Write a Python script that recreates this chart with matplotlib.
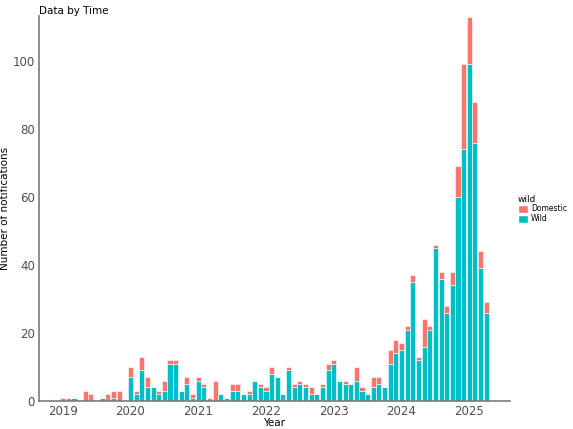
import numpy as np
import matplotlib
matplotlib.use("Agg")
import matplotlib.pyplot as plt
from matplotlib.patches import Patch

# monthly counts, Jan 2019 .. Apr 2025
months = [f"{y}-{m:02d}" for y in range(2019, 2026) for m in range(1, 13)][:76]

wild = [0, 0, 1, 0, 0, 0, 0, 1, 0, 1, 0, 0,
        7, 2, 9, 4, 4, 2, 3, 11, 11, 3, 5, 1,
        6, 4, 0, 0, 2, 1, 3, 3, 2, 2, 6, 4,
        3, 8, 7, 2, 9, 4, 5, 4, 2, 2, 4, 9,
        11, 6, 5, 5, 6, 3, 2, 4, 5, 4, 11, 14,
        15, 21, 35, 12, 16, 21, 45, 36, 26, 34, 60, 74,
        99, 76, 39, 26]
domestic = [1, 1, 0, 0, 3, 2, 0, 0, 2, 2, 3, 0,
            3, 1, 4, 3, 0, 1, 3, 1, 1, 0, 2, 1,
            1, 1, 1, 6, 0, 0, 2, 2, 0, 1, 0, 1,
            1, 2, 0, 0, 1, 1, 1, 1, 2, 0, 1, 2,
            1, 0, 1, 0, 4, 1, 0, 3, 2, 0, 4, 4,
            2, 1, 2, 1, 8, 1, 1, 2, 2, 4, 9, 25,
            14, 12, 5, 3]
years = ["2019", "2020", "2021", "2022", "2023", "2024", "2025"]

red = "#F8766D"
teal = "#00BFC4"
grey = "#4D4D4D"

x = np.arange(len(months))
wild = np.array(wild)
domestic = np.array(domestic)

fig = plt.figure(figsize=(5.73, 4.29), dpi=100)
ax = fig.add_axes([0.068, 0.0653, 0.822, 0.897])

ax.bar(x, wild, width=0.9, color=teal, edgecolor="white", linewidth=0.4)
ax.bar(x, domestic, bottom=wild, width=0.9, color=red, edgecolor="white", linewidth=0.4)

ax.set_xlim(-4.2, 79.2)
ax.set_ylim(0, 113.2)
ax.set_xticks(np.arange(len(years)) * 12)
ax.set_xticklabels(years)
ax.set_yticks([0, 20, 40, 60, 80, 100])

for s in ["top", "right"]:
    ax.spines[s].set_visible(False)
for s in ["left", "bottom"]:
    ax.spines[s].set_color("#7a7a7a")
    ax.spines[s].set_linewidth(1.2)

ax.tick_params(length=0, labelsize=8.5, colors=grey, pad=3)
ax.set_xlabel("Year", fontsize=7.5, labelpad=0)
ax.set_ylabel("Number of notifications", fontsize=7.5)
ax.yaxis.set_label_coords(-0.062, 0.5)
fig.text(0.068, 0.985, "Data by Time", fontsize=7.5, va="top", ha="left")

handles = [Patch(facecolor=red, edgecolor="white"), Patch(facecolor=teal, edgecolor="white")]
leg = fig.legend(handles, ["Domestic", "Wild"], title="wild", loc="upper left",
                 bbox_to_anchor=(0.897, 0.555), frameon=False, fontsize=5.5,
                 title_fontsize=6.5, handlelength=1.3, handleheight=1.3,
                 handletextpad=0.4, labelspacing=0.1, borderpad=0)
leg._legend_box.align = "left"

fig.savefig("out.png", dpi=100)
